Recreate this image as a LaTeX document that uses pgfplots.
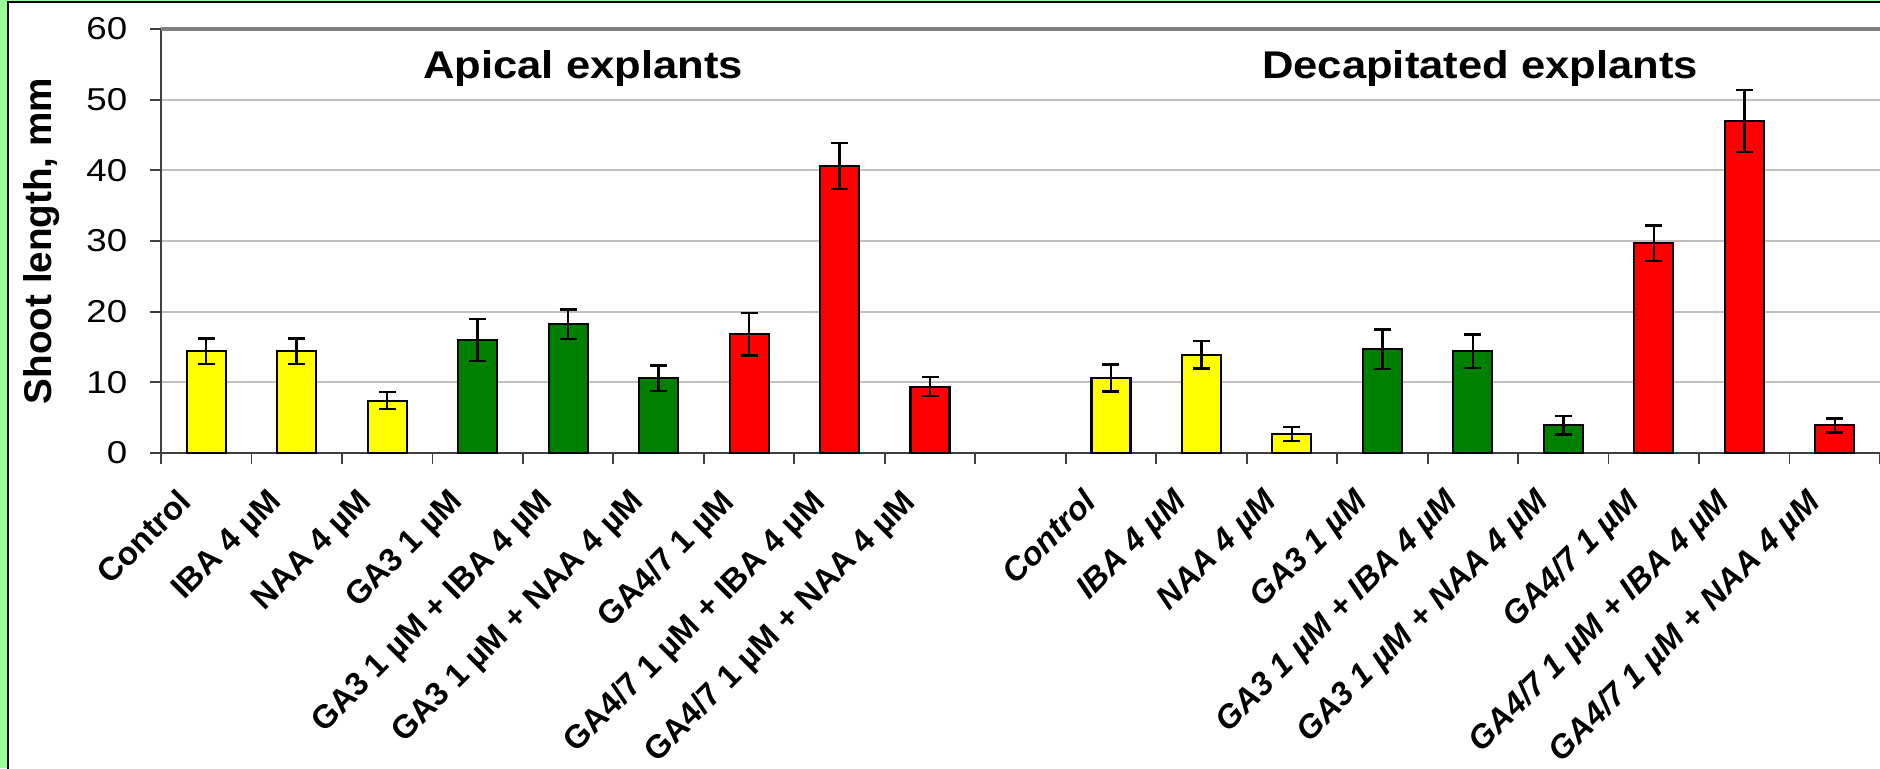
\documentclass[border=0pt]{standalone}
\usepackage{pgfplots}
\pgfplotsset{compat=1.18}
\usepackage{pgfplotstable}
\usepackage{fontspec}
\setmainfont{Liberation Sans}
\definecolor{bggreen}{HTML}{99FF99}
\definecolor{gridgray}{HTML}{C0C0C0}
\definecolor{topgray}{HTML}{808080}
\definecolor{axgray}{HTML}{404040}
\definecolor{barred}{HTML}{FF0000}
\definecolor{bargreen}{HTML}{008000}
\definecolor{baryellow}{HTML}{FFFF00}

\pgfplotstableread{
x y e
0.5 14.4 1.8
1.5 14.4 1.8
2.5 7.4 1.2
10.5 10.6 1.9
11.5 13.9 1.95
12.5 2.7 1.0
}\yellowdata
\pgfplotstableread{
x y e
3.5 16.0 2.95
4.5 18.2 2.1
5.5 10.6 1.8
13.5 14.7 2.8
14.5 14.4 2.4
15.5 3.9 1.3
}\greendata
\pgfplotstableread{
x y e
6.5 16.8 3.0
7.5 40.6 3.25
8.5 9.4 1.35
16.5 29.7 2.5
17.5 47.0 4.4
18.5 3.9 1.0
}\reddata

\begin{document}
\begin{tikzpicture}
\path[use as bounding box] (-16.1mm,-31.5mm) rectangle (171.9mm,45.3mm);
\fill[bggreen] (-16.1mm,-31.5mm) rectangle (171.9mm,45.3mm);
\fill[white] (-15.3mm,-31.5mm) rectangle (171.9mm,45.1mm);
\draw[black, line width=0.2mm] (-15.3mm,-31.6mm) -- (-15.3mm,45.1mm) -- (172mm,45.1mm);
\begin{axis}[
  at={(0,0)}, anchor=south west,
  scale only axis,
  width=171.9mm, height=42.4mm,
  xmin=0, xmax=19, ymin=0, ymax=60,
  axis x line*=bottom, axis y line*=left,
  axis line style={axgray, line width=0.6pt},
  tick align=outside,
  major tick length=1.1mm,
  tick style={axgray, line width=0.5pt},
  xtick={0,...,19},
  xticklabels={},
  ytick={0,10,...,60},
  /pgf/number format/assume math mode=true,
  yticklabel={\scalebox{1.16}[1]{\pgfmathprintnumber{\tick}}},
  yticklabel style={font=\fontsize{9}{10}\selectfont, anchor=east, inner sep=0pt, xshift=-2.2mm},
  ymajorgrids,
  grid style={gridgray, line width=0.5pt},
  extra x ticks={0.5,1.5,2.5,3.5,4.5,5.5,6.5,7.5,8.5,10.5,11.5,12.5,13.5,14.5,15.5,16.5,17.5,18.5},
  extra x tick labels={Control,IBA 4 µM,NAA 4 µM,GA3 1 µM,GA3 1 µM + IBA 4 µM,GA3 1 µM + NAA 4 µM,GA4/7 1 µM,GA4/7 1 µM + IBA 4 µM,GA4/7 1 µM + NAA 4 µM,\itshape Control,\itshape IBA 4 µM,\itshape NAA 4 µM,\itshape GA3 1 µM,\itshape GA3 1 µM + IBA 4 µM,\itshape GA3 1 µM + NAA 4 µM,\itshape GA4/7 1 µM,\itshape GA4/7 1 µM + IBA 4 µM,\itshape GA4/7 1 µM + NAA 4 µM},
  extra x tick style={major tick length=0pt, grid=none,
    xticklabel style={font=\bfseries\fontsize{9.3}{11}\selectfont, xshift=-3.0mm, yshift=-3.3mm, rotate=45, anchor=north east, inner sep=0pt}},
  ylabel={Shoot length, mm},
  ylabel style={font=\bfseries\fontsize{11}{13}\selectfont, at={(axis description cs:-0.0695,0.5)}, anchor=center},
  clip=false,
]
\draw[topgray, line width=0.9pt] (axis cs:0,60) -- (axis cs:19,60);
\addplot[ybar, bar shift=0pt, bar width=3.9mm, fill=baryellow, draw=black, line width=0.6pt,
  error bars/.cd, y dir=both, y explicit, error bar style={black, line width=0.7pt}, error mark options={rotate=90, mark size=0.85mm, black, line width=0.7pt}]
  table[x=x, y=y, y error=e] {\yellowdata};
\addplot[ybar, bar shift=0pt, bar width=3.9mm, fill=bargreen, draw=black, line width=0.6pt,
  error bars/.cd, y dir=both, y explicit, error bar style={black, line width=0.7pt}, error mark options={rotate=90, mark size=0.85mm, black, line width=0.7pt}]
  table[x=x, y=y, y error=e] {\greendata};
\addplot[ybar, bar shift=0pt, bar width=3.9mm, fill=barred, draw=black, line width=0.6pt,
  error bars/.cd, y dir=both, y explicit, error bar style={black, line width=0.7pt}, error mark options={rotate=90, mark size=0.85mm, black, line width=0.7pt}]
  table[x=x, y=y, y error=e] {\reddata};
\node[font=\bfseries\fontsize{11}{13}\selectfont, anchor=base] at (axis cs:4.665,53) {\scalebox{1.127}[1]{Apical explants}};
\node[font=\bfseries\fontsize{11}{13}\selectfont, anchor=base] at (axis cs:14.58,53) {\scalebox{1.127}[1]{Decapitated explants}};
\end{axis}
\end{tikzpicture}
\end{document}
